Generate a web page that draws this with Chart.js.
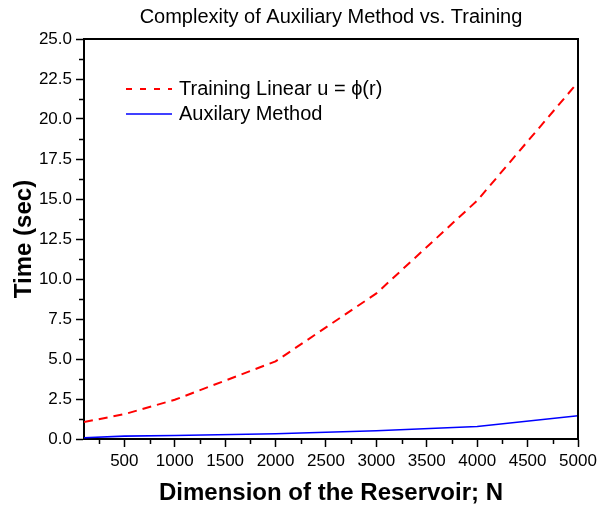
<!DOCTYPE html>
<html>
<head>
<meta charset="utf-8">
<script src="https://cdn.jsdelivr.net/npm/chart.js@4"></script>
<style>
    html, body { margin: 0; padding: 0; background: #fff; }
    #wrap { width: 598px; height: 505px; }
</style>
</head>
<body>
<div id="wrap"><canvas id="complexityChart" width="598" height="505"></canvas></div>
<script>
// values
const dimensions = [100, 500, 1000, 2000, 3000, 4000, 5000];
const trainingTimes = [1.06, 1.55, 2.45, 4.85, 9.1, 14.9, 22.3];
const auxiliaryTimes = [0.08, 0.18, 0.22, 0.33, 0.52, 0.78, 1.45];

const xMajorTicks = [500, 1000, 1500, 2000, 2500, 3000, 3500, 4000, 4500, 5000];
const xMinorTicks = [250, 750, 1250, 1750, 2250, 2750, 3250, 3750, 4250, 4750];
const yMinorTicks = [1.25, 3.75, 6.25, 8.75, 11.25, 13.75, 16.25, 18.75, 21.25, 23.75];

const titleText = 'Complexity of Auxiliary Method vs. Training';
const seriesLabels = ['Training Linear u = \u03d5(r)', 'Auxilary Method'];

const FONT = 'Arial, "Liberation Sans", sans-serif';

function toPoints(xs, ys) {
    return xs.map((x, i) => ({ x: x, y: ys[i] }));
}

// title centred over the plot, frame on top/right, minor ticks, inset legend
const decorations = {
    id: 'decorations',
    afterDraw(chart) {
        const ctx = chart.ctx;
        const area = chart.chartArea;
        const xs = chart.scales.x;
        const ys = chart.scales.y;

        ctx.save();
        ctx.fillStyle = '#000';
        ctx.font = '20px ' + FONT;
        ctx.textAlign = 'center';
        ctx.textBaseline = 'middle';
        ctx.fillText(titleText, (area.left + area.right) / 2, 17);

        ctx.strokeStyle = '#000';
        ctx.lineWidth = 2;
        ctx.beginPath();
        ctx.moveTo(area.left - 1, area.top);
        ctx.lineTo(area.right, area.top);
        ctx.lineTo(area.right, area.bottom + 1);
        ctx.stroke();

        ctx.lineWidth = 1.5;
        ctx.beginPath();
        xMinorTicks.forEach(v => {
            const px = Math.round(xs.getPixelForValue(v)) + 0.5;
            ctx.moveTo(px, area.bottom);
            ctx.lineTo(px, area.bottom + 5);
        });
        yMinorTicks.forEach(v => {
            const py = Math.round(ys.getPixelForValue(v)) + 0.5;
            ctx.moveTo(area.left, py);
            ctx.lineTo(area.left - 5, py);
        });
        ctx.stroke();

        // legend
        const lx = area.left + 42;
        const rows = [89, 114];
        ctx.font = '20px ' + FONT;
        ctx.textAlign = 'left';
        chart.data.datasets.forEach((ds, i) => {
            const y = rows[i];
            ctx.strokeStyle = ds.borderColor;
            ctx.lineWidth = ds.borderWidth;
            ctx.setLineDash(ds.borderDash && ds.borderDash.length ? [6, 8] : []);
            ctx.beginPath();
            ctx.moveTo(lx, y);
            ctx.lineTo(lx + 46, y);
            ctx.stroke();
            ctx.setLineDash([]);
            ctx.fillStyle = '#000';
            ctx.fillText(ds.label, lx + 53, y);
        });
        ctx.restore();
    }
};

const ctx = document.getElementById('complexityChart').getContext('2d');

new Chart(ctx, {
    type: 'line',
    data: {
        datasets: [{
            label: seriesLabels[0],
            data: toPoints(dimensions, trainingTimes),
            borderColor: '#ff0000',
            borderWidth: 2,
            borderDash: [9, 6],
            pointRadius: 0,
            tension: 0,
            fill: false
        }, {
            label: seriesLabels[1],
            data: toPoints(dimensions, auxiliaryTimes),
            borderColor: '#0000ff',
            borderWidth: 1.6,
            pointRadius: 0,
            tension: 0,
            fill: false
        }]
    },
    options: {
        responsive: false,
        animation: false,
        layout: {
            padding: { top: 39, right: 20, left: 0, bottom: 0 }
        },
        plugins: {
            legend: { display: false },
            title: { display: false },
            tooltip: { enabled: false }
        },
        scales: {
            x: {
                type: 'linear',
                min: 100,
                max: 5000,
                afterBuildTicks: scale => {
                    scale.ticks = xMajorTicks.map(v => ({ value: v }));
                },
                afterFit: scale => {
                    scale.height = 66;
                    scale.paddingLeft = 0;
                    scale.paddingRight = 0;
                },
                grid: {
                    drawOnChartArea: false,
                    drawTicks: true,
                    tickLength: 8,
                    tickColor: '#000',
                    tickWidth: 1.5
                },
                border: { display: true, color: '#000', width: 2 },
                ticks: {
                    color: '#000',
                    font: { family: FONT, size: 17 },
                    padding: 4,
                    maxRotation: 0,
                    autoSkip: false,
                    callback: value => String(value)
                },
                title: {
                    display: true,
                    text: 'Dimension of the Reservoir; N',
                    color: '#000',
                    font: { family: FONT, size: 24, weight: 'bold', lineHeight: 1 },
                    padding: { top: 0, bottom: 0 }
                }
            },
            y: {
                type: 'linear',
                min: 0,
                max: 25,
                afterFit: scale => { scale.width = 84; },
                ticks: {
                    stepSize: 2.5,
                    color: '#000',
                    font: { family: FONT, size: 17 },
                    padding: 4,
                    callback: value => value.toFixed(1)
                },
                grid: {
                    drawOnChartArea: false,
                    drawTicks: true,
                    tickLength: 8,
                    tickColor: '#000',
                    tickWidth: 1.5
                },
                border: { display: true, color: '#000', width: 2 },
                title: {
                    display: true,
                    text: 'Time (sec)',
                    color: '#000',
                    font: { family: FONT, size: 24, weight: 'bold', lineHeight: 1 },
                    padding: { top: 12, bottom: 0 }
                }
            }
        }
    },
    plugins: [decorations]
});
</script>
</body>
</html>
